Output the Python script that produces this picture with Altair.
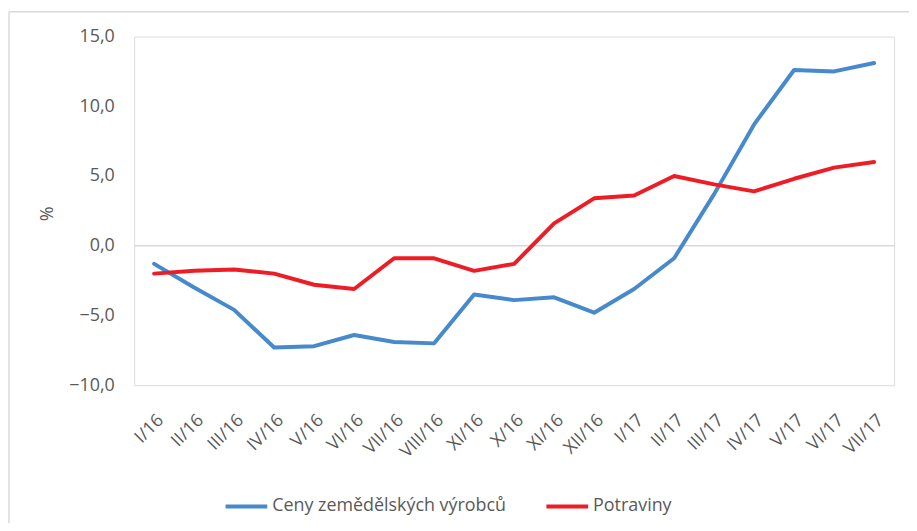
import altair as alt
import pandas as pd

months = ["I/16", "II/16", "III/16", "IV/16", "V/16", "VI/16", "VII/16", "VIII/16",
          "XI/16", "X/16", "XI/16", "XII/16", "I/17", "II/17", "III/17", "IV/17",
          "V/17", "VI/17", "VII/17"]
ceny = [-1.3, -3.0, -4.6, -7.3, -7.2, -6.4, -6.9, -7.0, -3.5, -3.9, -3.7, -4.8,
        -3.1, -0.9, 3.7, 8.7, 12.6, 12.5, 13.1]
potraviny = [-2.0, -1.8, -1.7, -2.0, -2.8, -3.1, -0.9, -0.9, -1.8, -1.3, 1.6, 3.4,
             3.6, 5.0, 4.4, 3.9, 4.8, 5.6, 6.0]
series_names = ["Ceny zemědělských výrobců", "Potraviny"]
series_colors = ["#4689CC", "#EE1D25"]
y_ticks = [-10, -5, 0, 5, 10, 15]

rows = []
for name, vals in zip(series_names, [ceny, potraviny]):
    for i, v in enumerate(vals):
        rows.append({"idx": i, "serie": name, "val": v})
df = pd.DataFrame(rows)

label_arr = "[" + ",".join("'" + m + "'" for m in months) + "]"
FONT = "Open Sans"
GRAY = "#595959"

x = alt.X("idx:O", title=None,
          axis=alt.Axis(labelExpr=label_arr + "[datum.value]", labelAngle=-45,
                        domain=False, ticks=False, labelPadding=26,
                        labelFont=FONT, labelFontSize=18, labelColor=GRAY))
y = alt.Y("val:Q", title="%",
          scale=alt.Scale(domain=[-10, 15], nice=False, zero=False),
          axis=alt.Axis(values=y_ticks, grid=False, domain=False, ticks=False,
                        labelExpr="replace(format(datum.value, '.1f'), '.', ',')",
                        labelPadding=20, labelFont=FONT, labelFontSize=18,
                        labelColor=GRAY, titleFont=FONT, titleFontSize=18,
                        titleColor=GRAY, titleFontWeight="normal",
                        titleAngle=-90, titleX=-87, titleY=178,
                        titleAlign="center", titleBaseline="middle"))

lines = alt.Chart(df).mark_line(strokeWidth=4, strokeCap="round", strokeJoin="round").encode(
    x=x, y=y,
    color=alt.Color("serie:N", title=None,
                    scale=alt.Scale(domain=series_names, range=series_colors),
                    legend=alt.Legend(orient="none", legendX=90, legendY=450,
                                      direction="horizontal", symbolType="stroke",
                                      symbolSize=1764, symbolStrokeWidth=4,
                                      labelFont=FONT, labelFontSize=18,
                                      labelColor=GRAY, labelOffset=3,
                                      labelLimit=0, columnPadding=32)),
)

zero = alt.Chart(pd.DataFrame({"v": [0]})).mark_rule(color="#D9D9D9", strokeWidth=1.5).encode(
    y=alt.Y("v:Q"))

frame_df = pd.DataFrame({"a": [0]})
frame_left = alt.Chart(frame_df).mark_rule(color="#D9D9D9", strokeWidth=1.5).encode(
    x=alt.value(-126), y=alt.value(-25), y2=alt.value(520))
frame_top = alt.Chart(frame_df).mark_rule(color="#D9D9D9", strokeWidth=1.5).encode(
    x=alt.value(-126), x2=alt.value(800), y=alt.value(-25))

chart = alt.layer(frame_left, frame_top, zero, lines).properties(
    width=765, height=351,
    autosize=alt.AutoSizeParams(type="none"),
    padding={"left": 127, "top": 27, "right": 15, "bottom": 137},
).configure_view(stroke=None).configure(background="white")

chart.save("out.html", embed_options={"renderer": "svg", "actions": False})
